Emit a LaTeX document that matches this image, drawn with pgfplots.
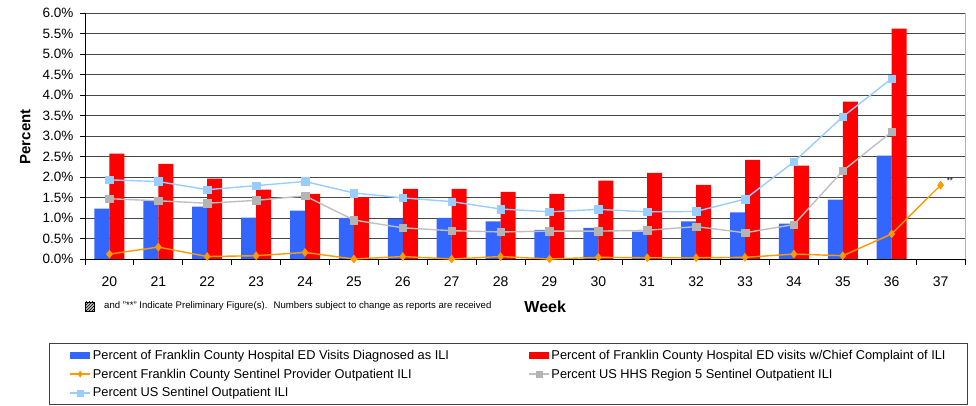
\documentclass[border=0pt]{standalone}
\usepackage{fontspec}
\setmainfont{Liberation Sans}
\usepackage{pgfplots}
\usepackage{pgfplotstable}
\pgfplotsset{compat=1.18}
\usetikzlibrary{patterns}
\definecolor{cblue}{HTML}{3366FF}
\definecolor{cred}{HTML}{FF0000}
\definecolor{corange}{HTML}{FF9900}
\definecolor{cgray}{HTML}{BFBFBF}
\definecolor{cgraym}{HTML}{B4B4B4}
\definecolor{clblue}{HTML}{99CCFF}
\pgfplotstableread{
week diag cc
20 1.23 2.57
21 1.43 2.32
22 1.28 1.96
23 1.01 1.69
24 1.18 1.59
25 1.00 1.51
26 0.98 1.71
27 1.00 1.71
28 0.92 1.64
29 0.71 1.59
30 0.76 1.91
31 0.67 2.10
32 0.92 1.81
33 1.14 2.42
34 0.86 2.28
35 1.45 3.84
36 2.52 5.62
}\bars
\pgfplotstableread{
week fc r5 us
20 0.12 1.47 1.93
21 0.29 1.42 1.89
22 0.06 1.36 1.69
23 0.08 1.43 1.79
24 0.16 1.54 1.89
25 0.00 0.95 1.61
26 0.06 0.76 1.49
27 0.00 0.69 1.40
28 0.06 0.66 1.22
29 0.00 0.68 1.15
30 0.04 0.68 1.21
31 0.03 0.70 1.15
32 0.03 0.79 1.16
33 0.04 0.64 1.46
34 0.12 0.84 2.37
35 0.08 2.15 3.47
36 0.61 3.10 4.40
37 1.80 nan nan
}\lines
\pgfplotsset{
  mylinelegend/.style={legend image code/.code={\draw[mark repeat=2,mark phase=2,mark size=3pt,##1] plot coordinates {(0pt,0pt) (10pt,0pt) (20pt,0pt)};}},
  mybarlegend/.style={legend image code/.code={\fill[##1] (0pt,-3.2pt) rectangle (20pt,3.2pt);}},
}
\begin{document}
\begin{tikzpicture}[x=1pt,y=1pt]
\path[use as bounding box] (0,0) rectangle (976,406);
\begin{axis}[
  at={(85pt,147pt)}, anchor=south west,
  scale only axis, width=880pt, height=246pt,
  xmin=19.5, xmax=37.5, ymin=0, ymax=6,
  axis x line*=bottom, axis y line*=left,
  axis line style={black, line width=0.9pt},
  xtick={20,...,37},
  minor xtick={19.5,20.5,...,37.5},
  ytick={0,0.5,...,6},
  yticklabels={0.0\%,0.5\%,1.0\%,1.5\%,2.0\%,2.5\%,3.0\%,3.5\%,4.0\%,4.5\%,5.0\%,5.5\%,6.0\%},
  tick align=outside,
  major x tick style={draw=none},
  minor x tick style={black, line width=0.8pt},
  major y tick style={black, line width=0.8pt},
  major tick length=5pt, minor tick length=6pt,
  ymajorgrids,
  major grid style={black!72, line width=0.9pt},
  /pgf/number format/assume math mode=true,
  xticklabel style={font=\fontsize{14}{14}\selectfont, yshift=-9pt},
  yticklabel style={font=\fontsize{13.5}{14}\selectfont, xshift=-3pt},
  ylabel={\textbf{Percent}},
  ylabel style={font=\fontsize{15}{15}\selectfont, at={(axis description cs:-0.068,0.496)}, anchor=center},
  xlabel={\textbf{Week}},
  xlabel style={font=\fontsize{16}{16}\selectfont, at={(axis description cs:0.523,-0.195)}, anchor=center},
  clip=false,
  legend cell align=left,
  legend columns=2,
  legend style={at={(axis description cs:-0.0409,-0.3415)}, anchor=north west,
    draw=black!75, line width=0.9pt,
    font=\fontsize{12.8}{14}\selectfont,
    nodes={inner xsep=2pt, inner ysep=1.5pt},
    /tikz/every even column/.append style={column sep=77pt},
    row sep=5pt, inner xsep=20pt, inner ysep=5pt},
]
\addplot[ybar, bar width=15pt, bar shift=-7.5pt, fill=cblue, draw=none, mybarlegend] table[x=week, y=diag] {\bars};
\addlegendentry{Percent of Franklin County Hospital ED Visits Diagnosed as ILI}
\addplot[ybar, bar width=15pt, bar shift=7.5pt, fill=cred, draw=none, mybarlegend] table[x=week, y=cc] {\bars};
\addlegendentry{Percent of Franklin County Hospital ED visits w/Chief Complaint of ILI}
\addplot[corange, line width=1.4pt, mark=diamond*, mark size=4pt, mark options={fill=corange, draw=corange, line width=0.5pt}, mylinelegend] table[x=week, y=fc] {\lines};
\addlegendentry{Percent Franklin County Sentinel Provider Outpatient ILI}
\addplot[cgray, line width=1.4pt, mark=square*, mark size=3.8pt, mark options={fill=cgraym, draw=cgraym, line width=0.5pt}, mylinelegend] table[x=week, y=r5] {\lines};
\addlegendentry{Percent US HHS Region 5 Sentinel Outpatient ILI}
\addplot[clblue, line width=1.4pt, mark=square*, mark size=3.8pt, mark options={fill=clblue, draw=clblue, line width=0.5pt}, mylinelegend] table[x=week, y=us] {\lines};
\addlegendentry{Percent US Sentinel Outpatient ILI}
\draw[black!30, line width=0.9pt] (rel axis cs:1,0) -- (rel axis cs:1,1);
\node[anchor=south west, inner sep=0pt, font=\fontsize{8}{8}\selectfont] at (axis cs:37,1.8) [xshift=6pt, yshift=1pt] {**};
\fill[black!25] (rel axis cs:0,-0.1748) rectangle (rel axis cs:0.0102,-0.2114);
\draw[black, line width=0.6pt, pattern=north east lines] (rel axis cs:0,-0.1748) rectangle (rel axis cs:0.0102,-0.2114);
\node[anchor=west, inner sep=0pt, font=\fontsize{9.6}{10}\selectfont] at (axis description cs:0.0216,-0.191) {and "**" Indicate Preliminary Figure(s).~ Numbers subject to change as reports are received};
\end{axis}
\end{tikzpicture}
\end{document}
